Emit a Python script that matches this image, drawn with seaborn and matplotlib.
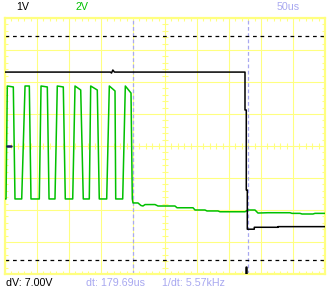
import numpy as np
import pandas as pd
import matplotlib
matplotlib.use("Agg")
import matplotlib.pyplot as plt
import seaborn as sns

# ---- scope settings ----
time_per_div = 50.0        # us / div
ch1_volts_per_div = 1.0    # V / div
ch2_volts_per_div = 2.0    # V / div
n_xdiv, n_ydiv = 10, 8

# ---- CH1 (black) : time [us], volts ----
ch1_t = [0.0, 164.8, 166.4, 168.5, 171.0, 375.0, 375.0, 377.0, 377.0, 378.6, 378.6,
         389.5, 389.5, 426.6, 426.6, 500.0]
ch1_v = [2.31, 2.31, 2.28, 2.375, 2.31, 2.31, 1.125, 1.125, -1.375, -1.375, -2.60,
         -2.60, -2.54, -2.54, -2.52, -2.52]

# ---- CH2 (green) : pulse burst, times [us] ----
pulse_rise_lo = [1.6, 26.1, 53.6, 78.1, 105.8, 131.7, 158.9, 183.9]
pulse_rise_hi = [3.6, 31.3, 56.3, 81.7, 109.4, 133.9, 163.0, 188.0]
pulse_fall_hi = [13.0, 38.0, 66.1, 91.1, 118.3, 144.2, 171.9, 196.9]
pulse_fall_lo = [15.6, 40.6, 68.8, 94.2, 122.3, 147.3, 173.0, 198.9]
pulse_top_start = [3.75, 3.75, 3.75, 3.75, 3.75, 3.75, 3.75, 3.75]
pulse_top_end = [3.69, 3.75, 3.69, 3.69, 3.50, 3.50, 3.44, 3.31]
pulse_low = -3.31
# CH2 after the burst
tail_t = [200.0, 207.8, 212.5, 215.6, 218.8, 234.4, 239.1, 265.6, 268.8, 293.8, 296.9,
          312.5, 315.6, 332.8, 335.9, 375.0, 379.7, 390.6, 395.3, 410.9, 445.3, 448.4,
          460.9, 464.1, 481.25, 484.4, 500.0]
tail_v = [-3.56, -3.56, -3.72, -3.75, -3.66, -3.66, -3.75, -3.75, -3.86, -3.86, -4.0,
          -4.0, -4.06, -4.06, -4.11, -4.11, -4.0, -4.0, -4.19, -4.17, -4.17, -4.21,
          -4.21, -4.25, -4.25, -4.21, -4.21]

# ---- cursors / markers ----
cursor_t = [200.0, 379.69]      # us
cursor_v_ch1 = [3.44, -3.56]    # V
trigger_t = 377.0               # us
ch1_ground = 0.0                # V

# ---- labels ----
label_ch1 = "1V"
label_ch2 = "2V"
label_time = "50us"
label_dv = "dV: 7.00V"
label_dt = "dt: 179.69us"
label_freq = "1/dt: 5.57kHz"

YELLOW = "#ffff80"
GREEN = "#00c000"
LAV = "#a8a8f0"

# build tables
g_t, g_v = [0.0], [pulse_low]
for rl, rh, fh, fl, ts, te in zip(pulse_rise_lo, pulse_rise_hi, pulse_fall_hi,
                                  pulse_fall_lo, pulse_top_start, pulse_top_end):
    g_t += [rl, rh, fh, fl]
    g_v += [pulse_low, ts, te, pulse_low]
g_t += tail_t
g_v += tail_v
df2 = pd.DataFrame({"t": g_t, "div": np.array(g_v) / ch2_volts_per_div})
df1 = pd.DataFrame({"t": ch1_t, "div": np.array(ch1_v) / ch1_volts_per_div})

sns.set_style("white")
plt.rcParams["font.family"] = ["Liberation Sans", "DejaVu Sans"]

W, H = 330, 290
fig = plt.figure(figsize=(W / 100, H / 100), dpi=100)
fig.patch.set_facecolor("white")
ax = fig.add_axes([5 / W, 16 / H, 320 / W, 256 / H])
ax.set_facecolor("white")

xmax = time_per_div * n_xdiv
ax.set_xlim(0, xmax)
ax.set_ylim(-n_ydiv / 2, n_ydiv / 2)
ax.set_xticks(np.arange(0, xmax + 1, time_per_div))
ax.set_yticks(np.arange(-n_ydiv / 2, n_ydiv / 2 + 1, 1))
ax.set_xticks(np.arange(0, xmax + 1, time_per_div / 5), minor=True)
ax.set_yticks(np.arange(-n_ydiv / 2, n_ydiv / 2 + 0.01, 0.2), minor=True)
ax.grid(True, which="major", color=YELLOW, lw=0.8, zorder=0)
ax.tick_params(which="major", length=0, labelbottom=False, labelleft=False)
ax.tick_params(which="minor", direction="in", length=2.2, width=0.8, color=YELLOW,
               top=True, right=True, bottom=True, left=True)
ax.set_axisbelow(True)
for s in ax.spines.values():
    s.set_color(YELLOW)
    s.set_linewidth(1.6)

# center line ticks
mx = np.arange(0, xmax + 1, time_per_div / 5)
my = np.arange(-n_ydiv / 2, n_ydiv / 2 + 0.01, 0.2)
ax.plot(mx, np.zeros_like(mx), ls="none", marker="|", ms=4, mew=0.8, color=YELLOW, zorder=1)
ax.plot(np.full_like(my, xmax / 2), my, ls="none", marker="_", ms=4, mew=0.8, color=YELLOW, zorder=1)

# cursors
for ct in cursor_t:
    ax.axvline(ct, color=LAV, lw=0.9, ls=(0, (3, 2)), zorder=2)
for cv in cursor_v_ch1:
    ax.axhline(cv / ch1_volts_per_div, color="black", lw=0.9, ls=(0, (3, 3)), zorder=2)

# traces
sns.lineplot(data=df2, x="t", y="div", sort=False, estimator=None, color=GREEN,
             lw=1.1, ax=ax, zorder=3)
sns.lineplot(data=df1, x="t", y="div", sort=False, estimator=None, color="black",
             lw=1.1, ax=ax, zorder=4)
ax.set_xlabel("")
ax.set_ylabel("")

# markers
ax.axvline(trigger_t, ymin=0, ymax=7 / 256, color="black", lw=1.8, zorder=5)
ax.axhline(ch1_ground / ch1_volts_per_div, xmin=1.5 / 320, xmax=6 / 320, color="#1a1a5a",
           lw=1.8, zorder=5)

fs = 7.7
fig.text(16 / W, 1 - 7 / H, label_ch1, color="black", fontsize=fs, va="center", ha="left")
fig.text(76 / W, 1 - 7 / H, label_ch2, color=GREEN, fontsize=fs, va="center", ha="left")
fig.text(277 / W, 1 - 7 / H, label_time, color=LAV, fontsize=fs, va="center", ha="left")
fig.text(5.5 / W, 1 - 283 / H, label_dv, color="black", fontsize=fs, va="center", ha="left")
fig.text(86 / W, 1 - 283 / H, label_dt, color=LAV, fontsize=fs, va="center", ha="left")
fig.text(162 / W, 1 - 283 / H, label_freq, color=LAV, fontsize=fs, va="center", ha="left")

fig.savefig("out.png", dpi=100, facecolor="white")
